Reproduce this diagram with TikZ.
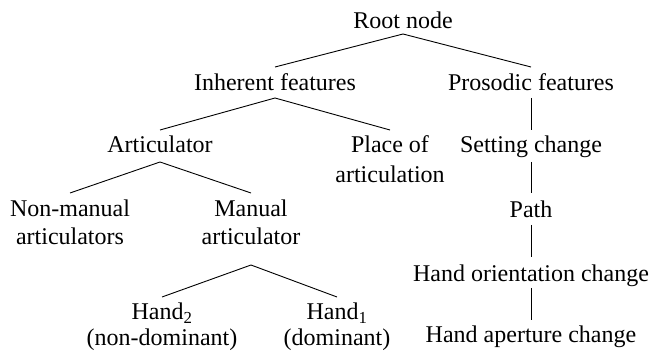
\documentclass[tikz,border=0pt]{standalone}
\usepackage{fontspec}
\setmainfont{Liberation Serif}
\begin{document}
\begin{tikzpicture}[x=1pt,y=-1pt,
  lbl/.style={font=\fontsize{24}{28}\selectfont, inner sep=0pt, anchor=base, align=center},
  edge/.style={line width=0.9pt}]
\useasboundingbox (0,0) rectangle (653,352);
\node[lbl] (root) at (403,29) {Root node};
\node[lbl] (inh) at (275,91) {Inherent features};
\node[lbl] (pro) at (531,91) {Prosodic features};
\node[lbl] (art) at (160,153) {Articulator};
\node[lbl] (poa) at (390,183) {Place of\\[2pt]articulation};
\node[lbl] (set) at (531,153) {Setting change};
\node[lbl] (nma) at (70,245) {Non-manual\\articulators};
\node[lbl] (man) at (251,245) {Manual\\articulator};
\node[lbl] (pat) at (531,218) {Path};
\node[lbl] (ori) at (531,282) {Hand orientation change};
\node[lbl] (ape) at (531,343) {Hand aperture change};
\node[lbl] (h2) at (162,346) {Hand\textsubscript{2}\\[-2pt](non-dominant)};
\node[lbl] (h1) at (337,346) {Hand\textsubscript{1}\\[-2pt](dominant)};
\draw[edge] ([yshift=-5pt]root.base) -- ([yshift=24pt]inh.base);
\draw[edge] ([yshift=-5pt]root.base) -- ([yshift=24pt]pro.base);
\draw[edge] ([yshift=-7pt]inh.base) -- ([yshift=23pt]art.base);
\draw[edge] ([yshift=-7pt]inh.base) -- ([yshift=53pt]poa.base);
\draw[edge] ([yshift=-7pt]pro.base) -- ([yshift=23pt]set.base);
\draw[edge] ([yshift=-9pt]art.base) -- ([yshift=52pt]nma.base);
\draw[edge] ([yshift=-9pt]art.base) -- ([yshift=52pt]man.base);
\draw[edge] ([yshift=-9pt]set.base) -- ([yshift=25pt]pat.base);
\draw[edge] ([yshift=-7pt]pat.base) -- ([yshift=25pt]ori.base);
\draw[edge] ([yshift=-6pt]ori.base) -- ([yshift=23pt]ape.base);
\draw[edge] ([yshift=-20pt]man.base) -- ([yshift=49pt]h2.base);
\draw[edge] ([yshift=-20pt]man.base) -- ([yshift=49pt]h1.base);
\end{tikzpicture}
\end{document}
